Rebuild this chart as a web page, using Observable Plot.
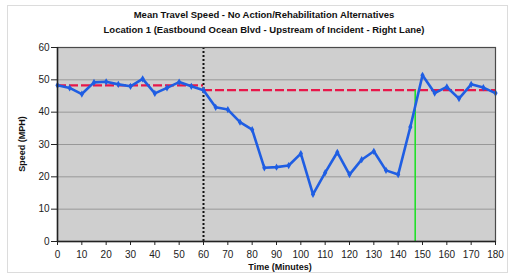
<!DOCTYPE html>
<html><head><meta charset="utf-8">
<script src="https://cdn.jsdelivr.net/npm/d3@7"></script>
<script src="https://cdn.jsdelivr.net/npm/@observablehq/plot@0.6"></script>
<style>
body{margin:0;background:#fff;}
#wrap{position:relative;width:511px;height:277px;font-family:"Liberation Sans",Arial,sans-serif;overflow:hidden;}
#frame{position:absolute;left:7px;top:5px;width:499px;height:266px;border:1px solid #dcdcdc;}
#chart{position:absolute;left:0;top:0;}
.t{position:absolute;left:0;width:528px;text-align:center;font-weight:bold;font-size:9.5px;color:#111;white-space:nowrap;}
.xl{position:absolute;left:180px;width:200px;top:262px;text-align:center;font-weight:bold;font-size:9px;color:#111;}
.yl{position:absolute;left:-28px;top:139px;width:100px;text-align:center;font-weight:bold;font-size:9px;color:#111;transform:rotate(-90deg);}
</style></head><body>
<div id="wrap">
<div id="frame"></div>
<div id="chart"></div>
<div class="t" style="top:9px">Mean Travel Speed - No Action/Rehabilitation Alternatives</div>
<div class="t" style="top:24px">Location 1 (Eastbound Ocean Blvd - Upstream of Incident - Right Lane)</div>
<div class="xl">Time (Minutes)</div>
<div class="yl">Speed (MPH)</div>
</div>
<script>
const times = [0,5,10,15,20,25,30,35,40,45,50,55,60,65,70,75,80,85,90,95,100,105,110,115,120,125,130,135,140,145,150,155,160,165,170,175,180];
const speeds = [48.3,47.5,45.6,49.2,49.4,48.6,48.0,50.3,45.8,47.5,49.3,48.0,46.8,41.5,40.8,36.9,34.6,22.8,23.0,23.5,27.2,14.6,21.3,27.6,20.7,25.3,27.9,22.0,20.7,35.4,51.4,45.9,47.8,44.2,48.6,47.6,45.9];
const xTicks = [0,10,20,30,40,50,60,70,80,90,100,110,120,130,140,150,160,170,180];
const yTicks = [0,10,20,30,40,50,60];
const gridLines = [10,20,30,40,50];
const baseStart = [0,60];
const baseEnd = [60,180];
const baseSpeed = [48.3,46.8];
const incidentTime = 60;
const recoveryTime = 147;

const data = times.map((t,i)=>({t, v:speeds[i]}));
const base = baseStart.map((s,i)=>({x1:s,x2:baseEnd[i],y:baseSpeed[i]}));

const plot = Plot.plot({
  width:511, height:277,
  marginLeft:57, marginRight:16, marginTop:47, marginBottom:36,
  style:{background:"transparent", fontFamily:"Liberation Sans, Arial, sans-serif", fontSize:"10px", color:"#222"},
  x:{domain:[0,180], ticks:xTicks, tickSize:4, tickPadding:5, label:null},
  y:{domain:[0,60], ticks:yTicks, tickSize:6, tickPadding:2, label:null},
  marks:[
    Plot.frame({fill:"#cfcfcf"}),
    Plot.gridY(gridLines,{stroke:"#989898", strokeOpacity:1, strokeWidth:1}),
    Plot.ruleY(base,{x1:"x1",x2:"x2",y:"y",stroke:"#e8174a",strokeWidth:2.2,strokeDasharray:"9,3"}),
    Plot.ruleX([incidentTime],{y1:0,y2:60,stroke:"#111",strokeWidth:2,strokeDasharray:"2,2"}),
    Plot.ruleX([recoveryTime],{y1:0,y2:baseSpeed[1],stroke:"#22e02a",strokeWidth:1.6}),
    Plot.line(data,{x:"t",y:"v",stroke:"#1f5ee3",strokeWidth:2.6,strokeLinejoin:"round"}),
    Plot.dot(data,{x:"t",y:"v",symbol:"diamond",r:2.2,fill:"#1f5ee3"}),
    Plot.frame({stroke:"#4a4a4a",strokeWidth:1.2}),
    Plot.ruleY([0],{stroke:"#222",strokeWidth:1.5}),
    Plot.ruleX([0],{stroke:"#222",strokeWidth:1.5}),
    Plot.axisX(xTicks,{tickSize:4,tickPadding:5,stroke:"#222"}),
    Plot.axisY(yTicks,{tickSize:6,tickPadding:2,stroke:"#222"})
  ]
});
document.getElementById("chart").appendChild(plot);
</script>
</body></html>
